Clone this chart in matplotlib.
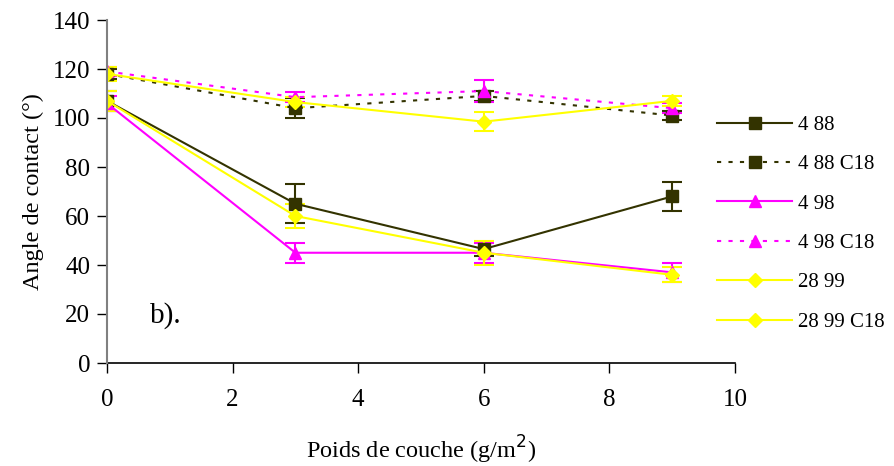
import matplotlib
matplotlib.use("Agg")
import matplotlib.pyplot as plt
from matplotlib.lines import Line2D

plt.rcParams['font.family'] = ['Liberation Serif', 'DejaVu Serif']

x = [0, 3, 6, 9]
labels = ["4 88", "4 88 C18", "4 98", "4 98 C18", "28 99", "28 99 C18"]
values = {
    "4 88":      [107, 65, 46.5, 68],
    "4 88 C18":  [118, 104, 109, 101],
    "4 98":      [106, 45, 45, 37],
    "4 98 C18":  [119, 108.5, 111, 104],
    "28 99":     [107, 60, 45, 36],
    "28 99 C18": [118, 106.5, 98.5, 107],
}
errors = {
    "4 88":      [4, 8, 3, 6],
    "4 88 C18":  [2, 4, 2, 2],
    "4 98":      [3, 4, 4, 4],
    "4 98 C18":  [2, 2, 4.5, 2],
    "28 99":     [4, 5, 5, 3],
    "28 99 C18": [3, 2, 4, 2],
}

olive = "#333300"
mag = "#FF00FF"
yel = "#FFFF00"
styles = {
    "4 88":      dict(color=olive, ls='-', marker='s', ms=8),
    "4 88 C18":  dict(color=olive, ls=(0, (2, 3.5)), marker='s', ms=8),
    "4 98":      dict(color=mag, ls='-', marker='^', ms=9),
    "4 98 C18":  dict(color=mag, ls=(0, (2, 3.5)), marker='^', ms=9),
    "28 99":     dict(color=yel, ls='-', marker='D', ms=7.5),
    "28 99 C18": dict(color=yel, ls='-', marker='D', ms=7.5),
}

fig = plt.figure(figsize=(8.95, 4.66), dpi=100)
ax = fig.add_axes([107/895, 103/466, 628/895, 343/466])

handles = []
for lab in labels:
    st = styles[lab]
    ax.errorbar(x, values[lab], yerr=errors[lab], color=st['color'], ls=st['ls'],
                lw=1.5, marker=st['marker'], ms=st['ms'], capsize=7, capthick=1.5,
                elinewidth=1.5, zorder=3)
    handles.append(Line2D([], [], color=st['color'], ls=st['ls'], lw=1.5,
                          marker=st['marker'], ms=st['ms']))

ax.set_xlim(0, 10)
ax.set_ylim(0, 140)
ax.set_xticks([0, 2, 4, 6, 8, 10])
ax.set_yticks(range(0, 141, 20))
for s in ['top', 'right']:
    ax.spines[s].set_visible(False)
ax.spines['left'].set_color('#808080')
ax.spines['left'].set_linewidth(1.5)
ax.spines['bottom'].set_color('black')
ax.spines['bottom'].set_linewidth(1.2)
ax.spines['left'].set_zorder(5)
ax.tick_params(axis='y', direction='out', length=7, width=1, labelsize=18, pad=5)
ax.tick_params(axis='x', direction='out', length=7, width=1, labelsize=18, pad=12)

ax.set_xlabel("Poids de couche (g/m$^2$)", fontsize=17.5, labelpad=16)
ax.set_ylabel("Angle de contact (°)", fontsize=17.5, labelpad=6)
ax.text(0.68, 19.5, "b).", fontsize=21, va='center', ha='left')

fig.legend(handles, labels, loc='upper left', bbox_to_anchor=(709/895, 1 - 107/466),
           frameon=False, fontsize=15, handlelength=3.6, labelspacing=0.95,
           handletextpad=0.25, borderaxespad=0)

fig.savefig("out.png", dpi=100)
